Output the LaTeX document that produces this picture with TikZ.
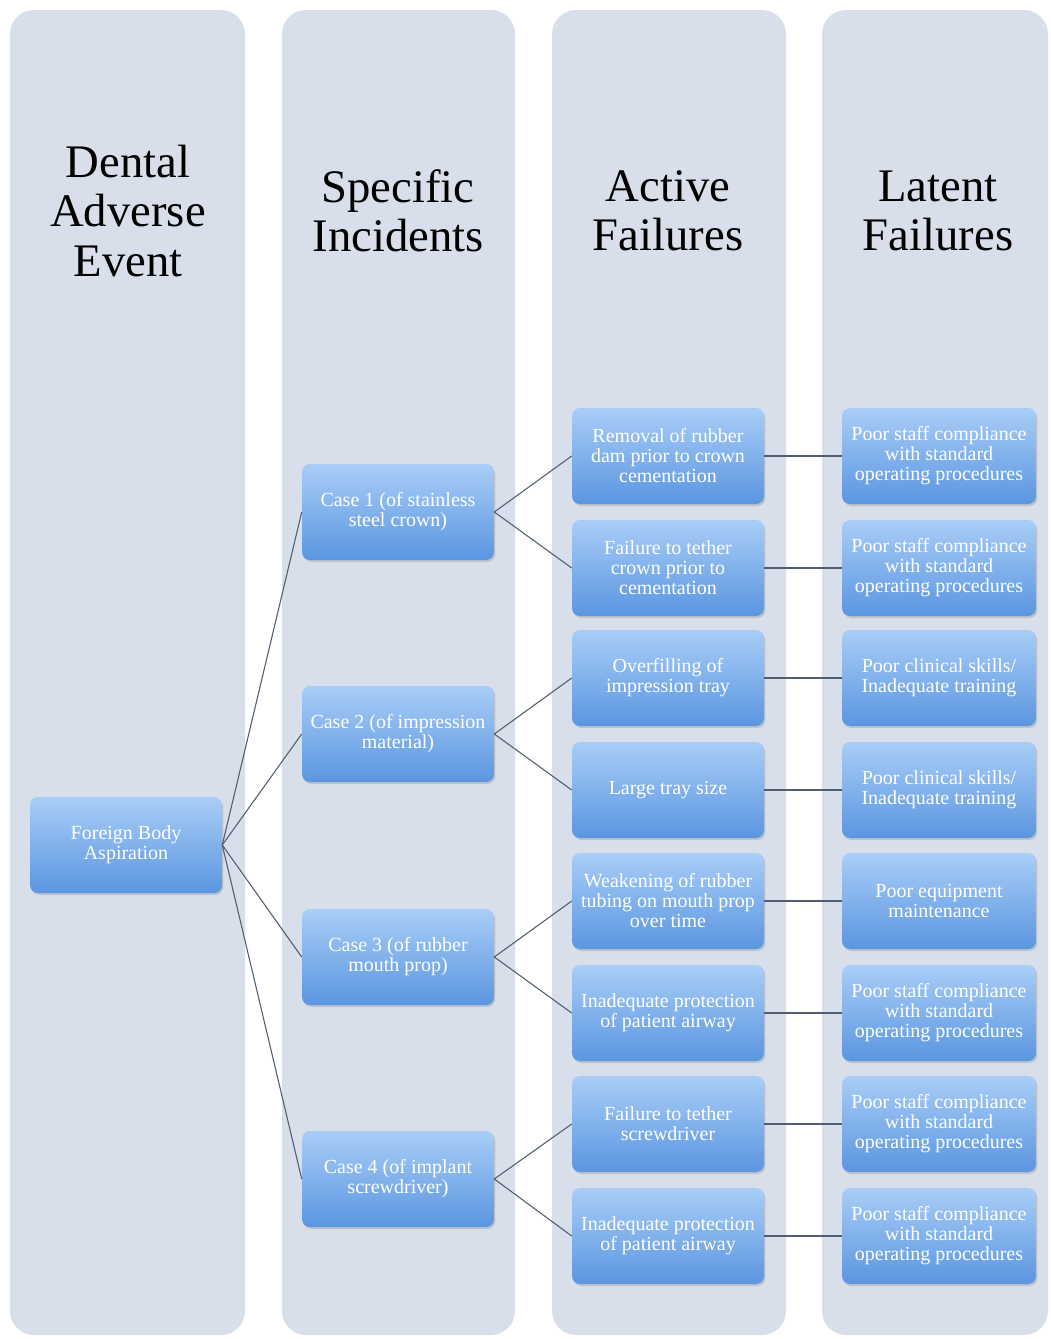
\documentclass[tikz,border=0pt]{standalone}
\usepackage{fontspec}
\setmainfont{Liberation Serif}
\usetikzlibrary{shadows}
\definecolor{colbg}{HTML}{D9DFEA}
\definecolor{boxtop}{HTML}{A9CDF7}
\definecolor{boxbot}{HTML}{5A96E0}
\definecolor{linec}{HTML}{4F5D6E}
\begin{document}
\begin{tikzpicture}[x=0.75pt,y=-0.75pt,
  column/.style={fill=colbg, rounded corners=18pt},
  hdr/.style={font=\fontsize{35}{37}\selectfont, align=center, text=black},
  fbox/.style={rectangle, rounded corners=6pt, minimum width=144pt, minimum height=72pt,
    top color=boxtop, bottom color=boxbot, draw=none, text=white, align=center,
    font=\fontsize{15}{15}\selectfont, inner sep=1pt,
    drop shadow={opacity=0.3, shadow xshift=1pt, shadow yshift=-1.5pt}},
  lbox/.style={fbox, minimum width=145.5pt},
  conn/.style={draw=linec, line width=0.8pt}]
\useasboundingbox (0,0) rectangle (1050,1339);
\fill[white] (0,0) rectangle (1050,1339);
% columns
\fill[column] (10,10) rectangle (245,1335);
\fill[column] (282,10) rectangle (515,1335);
\fill[column] (552,10) rectangle (786,1335);
\fill[column] (822,10) rectangle (1048,1335);
% headers
\node[hdr] (h1) at (128,211) {Dental\\Adverse\\Event};
\node[hdr] (h2) at (398,211) {Specific\\Incidents};
\node[hdr] (h3) at (668,211) {Active\\Failures};
\node[hdr] (h4) at (938,211) {Latent\\Failures};
% event
\node[fbox] (fba) at (126,845) {Foreign Body\\Aspiration};
% cases
\node[fbox] (c1) at (398,512) {Case 1 (of stainless\\steel crown)};
\node[fbox] (c2) at (398,734) {Case 2 (of impression\\material)};
\node[fbox] (c3) at (398,957) {Case 3 (of rubber\\mouth prop)};
\node[fbox] (c4) at (398,1179) {Case 4 (of implant\\screwdriver)};
% active failures
\node[fbox] (a1) at (668,456) {Removal of rubber\\dam prior to crown\\cementation};
\node[fbox] (a2) at (668,568) {Failure to tether\\crown prior to\\cementation};
\node[fbox] (a3) at (668,678) {Overfilling of\\impression tray};
\node[fbox] (a4) at (668,790) {Large tray size};
\node[fbox] (a5) at (668,901) {Weakening of rubber\\tubing on mouth prop\\over time};
\node[fbox] (a6) at (668,1013) {Inadequate protection\\of patient airway};
\node[fbox] (a7) at (668,1124) {Failure to tether\\screwdriver};
\node[fbox] (a8) at (668,1236) {Inadequate protection\\of patient airway};
% latent failures
\node[lbox] (l1) at (939,456) {Poor staff compliance\\with standard\\operating procedures};
\node[lbox] (l2) at (939,568) {Poor staff compliance\\with standard\\operating procedures};
\node[lbox] (l3) at (939,678) {Poor clinical skills/\\Inadequate training};
\node[lbox] (l4) at (939,790) {Poor clinical skills/\\Inadequate training};
\node[lbox] (l5) at (939,901) {Poor equipment\\maintenance};
\node[lbox] (l6) at (939,1013) {Poor staff compliance\\with standard\\operating procedures};
\node[lbox] (l7) at (939,1124) {Poor staff compliance\\with standard\\operating procedures};
\node[lbox] (l8) at (939,1236) {Poor staff compliance\\with standard\\operating procedures};
% connectors
\foreach \c in {c1,c2,c3,c4} \draw[conn] (fba.east) -- (\c.west);
\draw[conn] (c1.east) -- (a1.west);
\draw[conn] (c1.east) -- (a2.west);
\draw[conn] (c2.east) -- (a3.west);
\draw[conn] (c2.east) -- (a4.west);
\draw[conn] (c3.east) -- (a5.west);
\draw[conn] (c3.east) -- (a6.west);
\draw[conn] (c4.east) -- (a7.west);
\draw[conn] (c4.east) -- (a8.west);
\foreach \i in {1,...,8} \draw[conn] (a\i.east) -- (l\i.west);
\end{tikzpicture}
\end{document}
